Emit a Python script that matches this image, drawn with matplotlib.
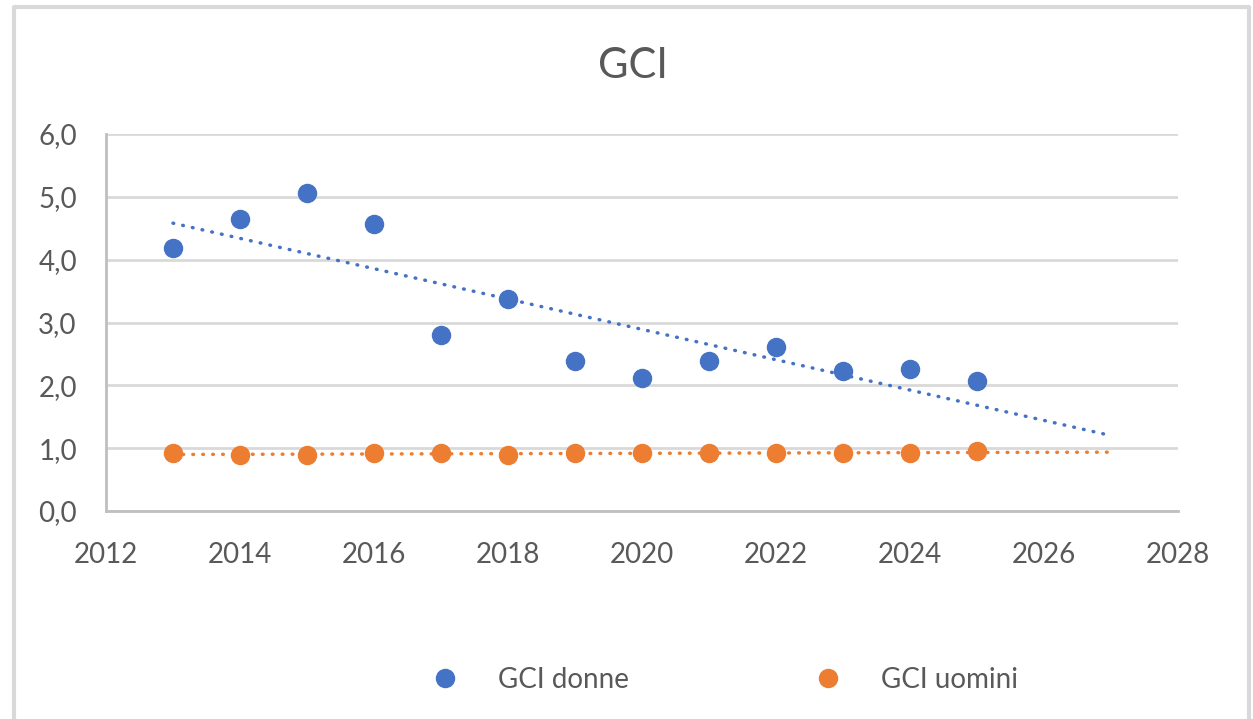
import numpy as np
import matplotlib.pyplot as plt
from matplotlib.lines import Line2D

plt.rcParams['font.family'] = ['Lato', 'DejaVu Sans']

years = [2013, 2014, 2015, 2016, 2017, 2018, 2019, 2020, 2021, 2022, 2023, 2024, 2025]
gci_donne = [4.19, 4.65, 5.06, 4.57, 2.80, 3.38, 2.39, 2.12, 2.39, 2.61, 2.23, 2.26, 2.07]
gci_uomini = [0.92, 0.89, 0.89, 0.92, 0.92, 0.89, 0.92, 0.92, 0.92, 0.92, 0.92, 0.92, 0.95]
trend_end = 2027

blue = '#4472C4'
orange = '#ED7D31'
text_col = '#595959'
grid_col = '#D9D9D9'

fig = plt.figure(figsize=(12.53, 7.19), dpi=100)
ax = fig.add_axes([0.0846, 0.2893, 0.8555, 0.5243])

x = np.array(years)
for vals, col, lab in [(gci_donne, blue, 'GCI donne'), (gci_uomini, orange, 'GCI uomini')]:
    ax.plot(x, vals, 'o', color=col, ms=13, label=lab, zorder=3)
    # linear trendline, forecast forward to 2027
    k, q = np.polyfit(x, vals, 1)
    xt = np.array([years[0], trend_end])
    ax.plot(xt, k * xt + q, color=col, lw=2.5, linestyle=(0, (0.2, 2.66)),
            dash_capstyle='round', zorder=2)

ax.set_xlim(2012, 2028)
ax.set_ylim(0, 6)
ax.set_xticks(range(2012, 2029, 2))
ax.set_yticks(range(0, 7))
ax.set_yticklabels([f'{v},0' for v in range(0, 7)])
ax.tick_params(length=0, labelsize=20, labelcolor=text_col)
ax.tick_params(axis='x', pad=22)
ax.tick_params(axis='y', pad=21)
ax.grid(axis='y', color=grid_col, lw=2)
ax.set_axisbelow(True)
for s in ['top', 'right']:
    ax.spines[s].set_visible(False)
for s in ['left', 'bottom']:
    ax.spines[s].set_color('#BFBFBF')
    ax.spines[s].set_linewidth(2)

fig.text(0.505, 0.8915, 'GCI', ha='center', va='baseline', fontsize=30, color=text_col)

leg = fig.legend(loc='center', bbox_to_anchor=(0.5727, 0.054), ncol=2, frameon=False,
                 fontsize=20, labelcolor=text_col, columnspacing=6.15, handletextpad=0.9,
                 handlelength=2.0)

# outer chart border (left, top, right)
fig.add_artist(Line2D([0.0115, 0.0115, 0.9970, 0.9970], [0.0, 0.9896, 0.9896, 0.0],
                      transform=fig.transFigure, color='#D9D9D9', lw=3))

fig.savefig('out.png', dpi=100)
